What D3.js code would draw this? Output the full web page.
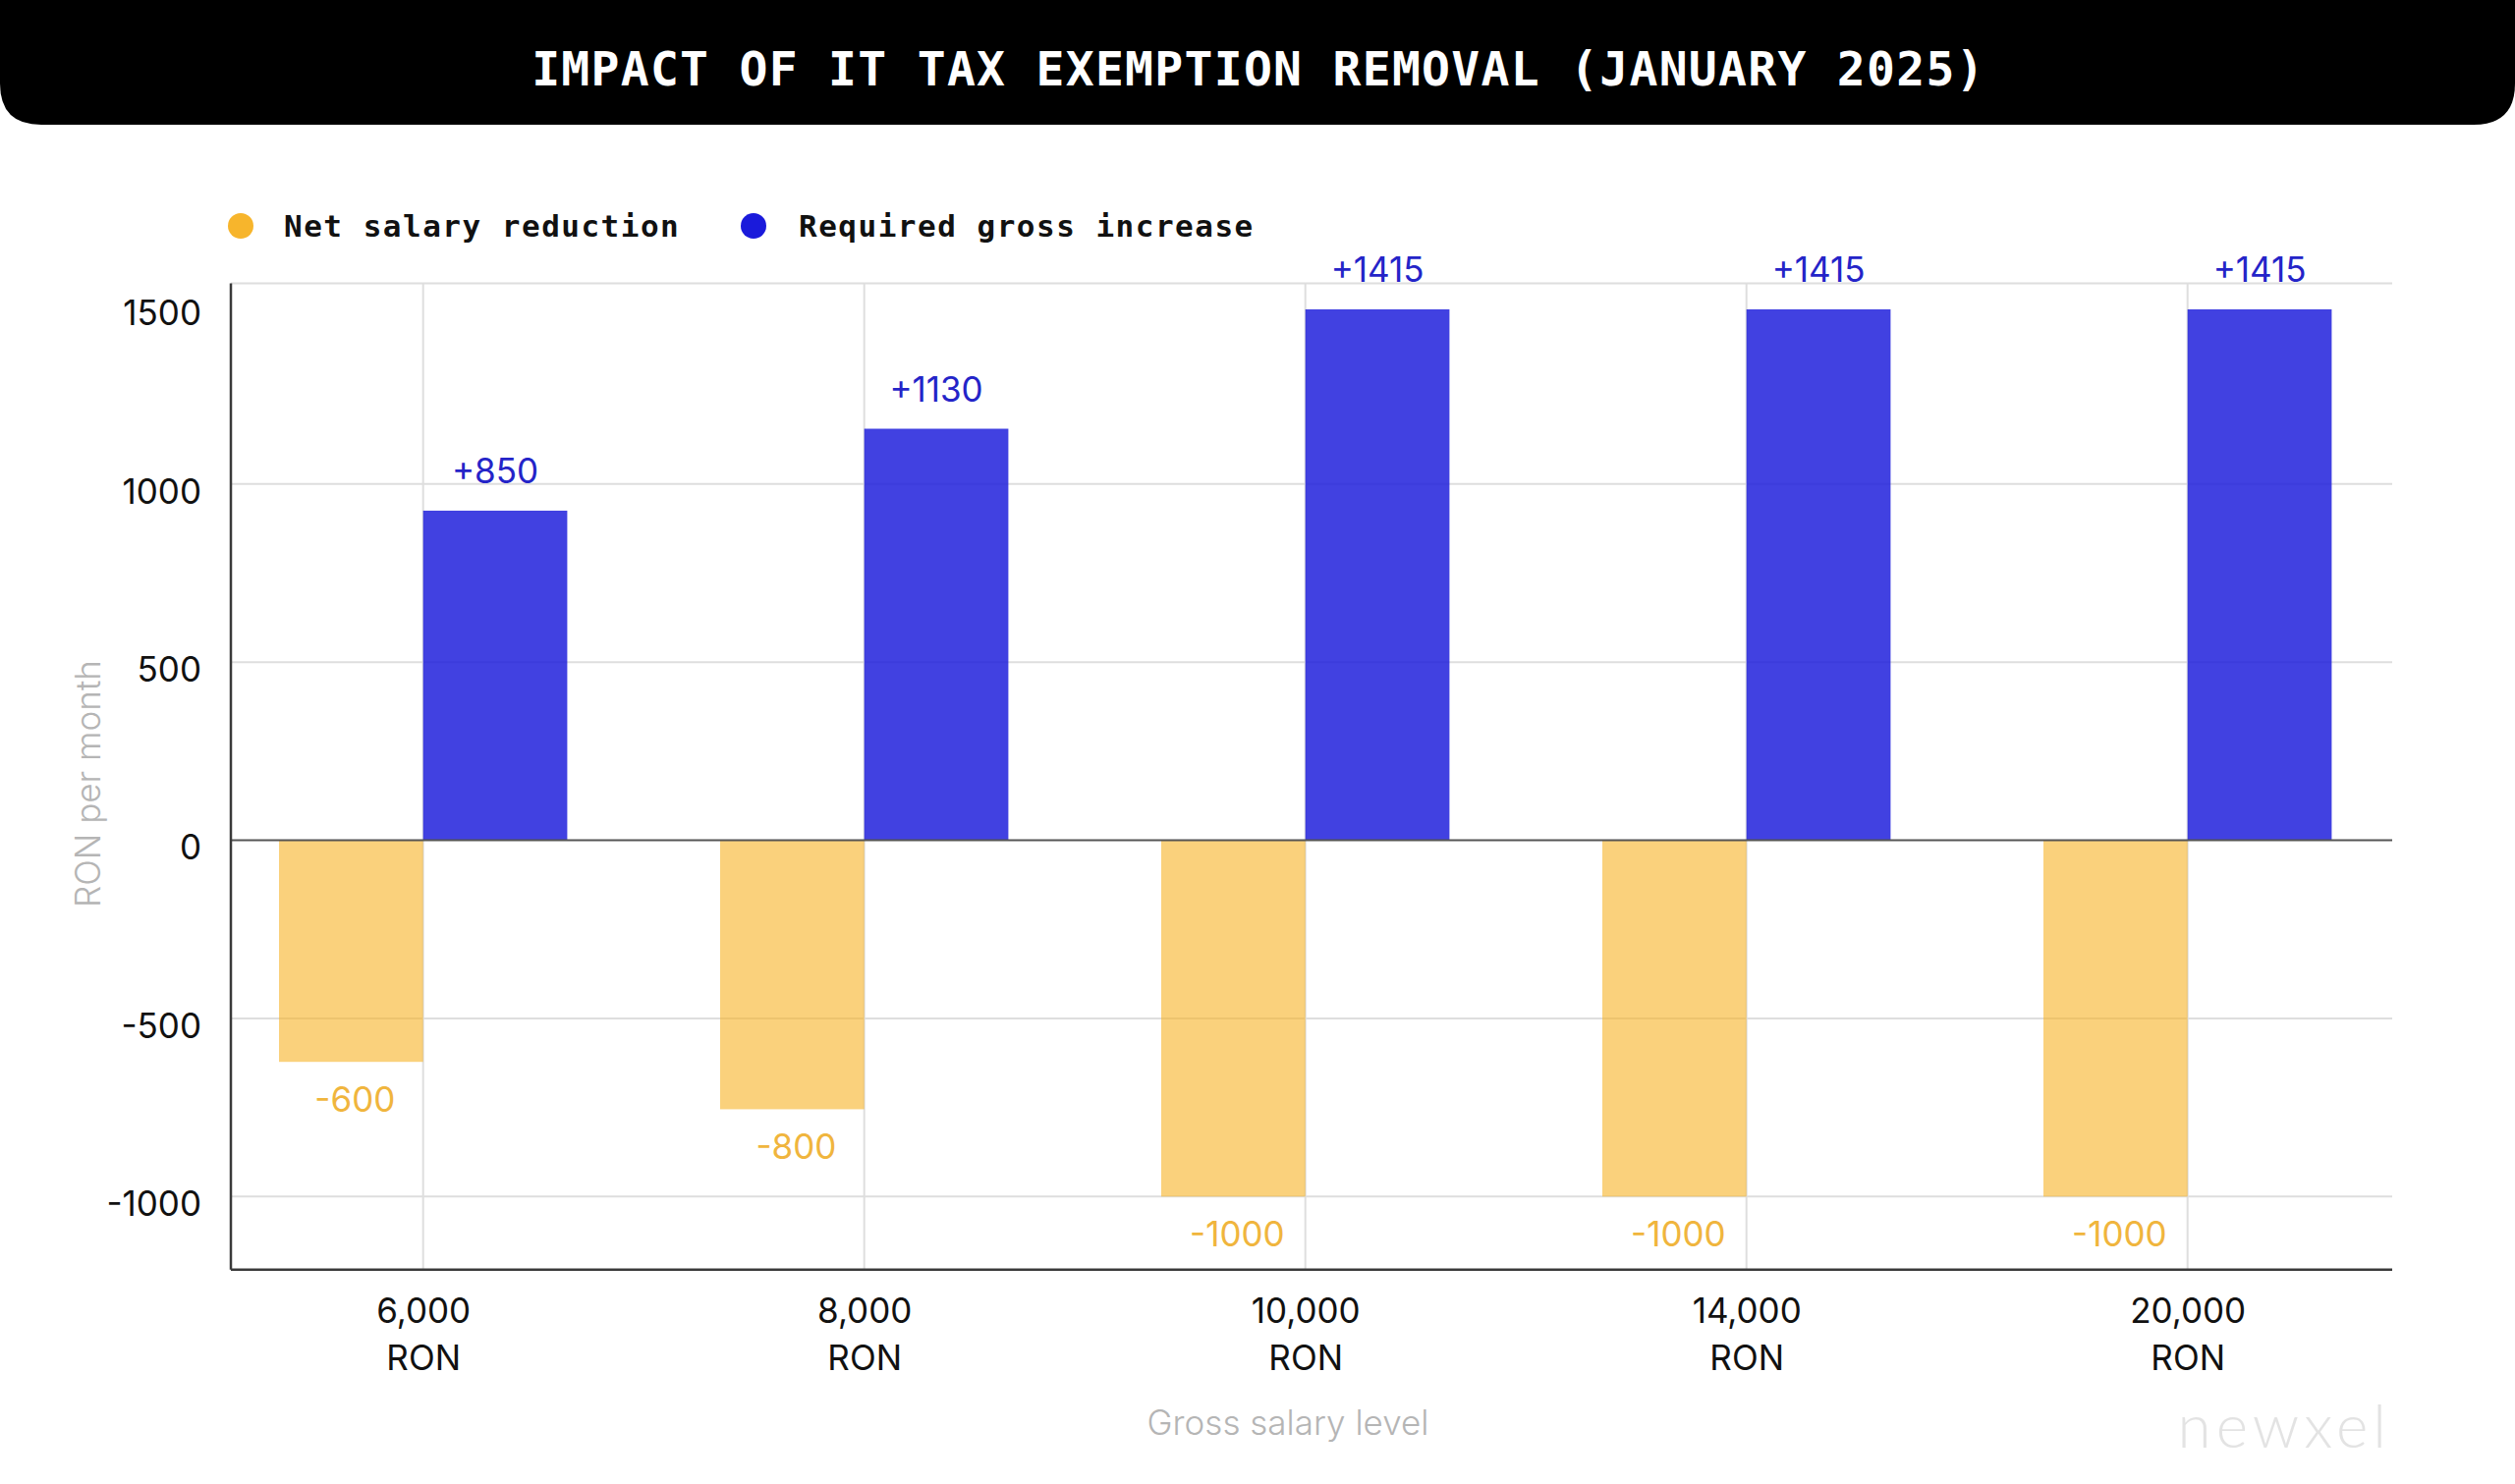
<!DOCTYPE html>
<html>
<head>
<meta charset="utf-8">
<script src="https://cdn.jsdelivr.net/npm/d3@7"></script>
<style>
  html, body { margin: 0; padding: 0; background: #ffffff; }
  svg { display: block; }
</style>
</head>
<body>
<svg id="chart" width="2560" height="1511"></svg>
<script>
// ---- data ----
const salaryLevels = ["6,000", "8,000", "10,000", "14,000", "20,000"];
const salaryUnit = "RON";
const netReduction = [-622, -755, -1000, -1000, -1000];
const grossIncrease = [925, 1155, 1490, 1490, 1490];
const netLabels = ["-600", "-800", "-1000", "-1000", "-1000"];
const grossLabels = ["+850", "+1130", "+1415", "+1415", "+1415"];
const yTickValues = [-1000, -500, 0, 500, 1000, 1500];
const yGridValues = [-1000, -500, 500, 1000];
const seriesNames = ["Net salary reduction", "Required gross increase"];
const titleText = "IMPACT OF IT TAX EXEMPTION REMOVAL (JANUARY 2025)";

// ---- layout ----
const W = 2560, H = 1511;
const plot = { left: 235, right: 2435, top: 288.5, bottom: 1292.7 };
const barW = 146.7;
const colors = {
  orange: "#f7b52c", orangeText: "#f0b53d",
  blue: "#1a1adb", blueText: "#2424c8",
  grid: "#dedede", axis: "#3a3a3a"
};
const sans = "Inter, 'Noto Sans', sans-serif";
const mono = "'DejaVu Sans Mono', 'Liberation Mono', monospace";

const svg = d3.select("#chart");

// ---- title bar ----
const r = 42;
svg.append("path")
  .attr("d", `M0,0 H${W} V${127 - r} Q${W},127 ${W - r},127 H${r} Q0,127 0,${127 - r} Z`)
  .attr("fill", "#000");
svg.append("text")
  .attr("x", W / 2 + 1).attr("y", 70)
  .attr("text-anchor", "middle").attr("dominant-baseline", "central")
  .attr("fill", "#fff")
  .style("font-family", mono).style("font-weight", "bold")
  .style("font-size", "48px").style("letter-spacing", "1.3px")
  .text(titleText);

// ---- scales ----
const x = d3.scalePoint().domain(salaryLevels).range([430.7, 2226.7]);
const y = d3.scaleLinear().domain([-1205, 1563]).range([plot.bottom, plot.top]);

// ---- grid ----
const g = svg.append("g");
g.selectAll(".hgrid").data(yGridValues).join("line")
  .attr("x1", plot.left).attr("x2", plot.right)
  .attr("y1", d => y(d)).attr("y2", d => y(d))
  .attr("stroke", colors.grid).attr("stroke-width", 2);
g.append("line")
  .attr("x1", plot.left).attr("x2", plot.right)
  .attr("y1", plot.top).attr("y2", plot.top)
  .attr("stroke", colors.grid).attr("stroke-width", 2);
g.selectAll(".vgrid").data(salaryLevels).join("line")
  .attr("x1", d => x(d)).attr("x2", d => x(d))
  .attr("y1", plot.top).attr("y2", plot.bottom)
  .attr("stroke", colors.grid).attr("stroke-width", 2);

// ---- bars ----
g.selectAll(".bar-net").data(netReduction).join("rect")
  .attr("x", (d, i) => x(salaryLevels[i]) - barW)
  .attr("y", y(0))
  .attr("width", barW)
  .attr("height", d => y(d) - y(0))
  .attr("fill", colors.orange).attr("fill-opacity", 0.62);
g.selectAll(".bar-gross").data(grossIncrease).join("rect")
  .attr("x", (d, i) => x(salaryLevels[i]))
  .attr("y", d => y(d))
  .attr("width", barW)
  .attr("height", d => y(0) - y(d))
  .attr("fill", colors.blue).attr("fill-opacity", 0.83);

// ---- zero line + axes ----
g.append("line")
  .attr("x1", plot.left).attr("x2", plot.right)
  .attr("y1", y(0)).attr("y2", y(0))
  .attr("stroke", "#555").attr("stroke-width", 2);

const yAxis = d3.axisLeft(y).tickValues(yTickValues).tickSize(0).tickPadding(30)
  .tickFormat(d => String(d));
const yg = svg.append("g").attr("transform", `translate(${plot.left},0)`).call(yAxis);
yg.select(".domain").remove();
yg.selectAll("text")
  .attr("fill", "#111").attr("dy", "0.55em")
  .style("font-family", sans).style("font-size", "35px");
svg.append("line")
  .attr("x1", plot.left).attr("x2", plot.left)
  .attr("y1", plot.top).attr("y2", plot.bottom)
  .attr("stroke", colors.axis).attr("stroke-width", 2.5);

const xAxis = d3.axisBottom(x).tickSize(0).tickPadding(0).tickFormat("");
const xg = svg.append("g").attr("transform", `translate(0,${plot.bottom})`).call(xAxis);
xg.select(".domain").remove();
xg.selectAll(".tick").append("text")
  .attr("text-anchor", "middle").attr("fill", "#111")
  .style("font-family", sans).style("font-size", "35px")
  .each(function(d) {
    const t = d3.select(this);
    t.append("tspan").attr("x", 0).attr("y", 54).text(d);
    t.append("tspan").attr("x", 0).attr("y", 102).text(salaryUnit);
  });
svg.append("line")
  .attr("x1", plot.left).attr("x2", plot.right)
  .attr("y1", plot.bottom).attr("y2", plot.bottom)
  .attr("stroke", colors.axis).attr("stroke-width", 2.5);

// ---- value labels ----
svg.selectAll(".lbl-gross").data(grossIncrease).join("text")
  .attr("x", (d, i) => x(salaryLevels[i]) + barW / 2)
  .attr("y", d => y(d) - 28)
  .attr("text-anchor", "middle").attr("fill", colors.blueText)
  .style("font-family", sans).style("font-size", "35px")
  .text((d, i) => grossLabels[i]);
svg.selectAll(".lbl-net").data(netReduction).join("text")
  .attr("x", (d, i) => x(salaryLevels[i]) - barW / 2 + 4)
  .attr("y", d => y(d) + 51)
  .attr("text-anchor", "middle").attr("fill", colors.orangeText)
  .style("font-family", sans).style("font-size", "35px")
  .text((d, i) => netLabels[i]);

// ---- axis titles ----
svg.append("text")
  .attr("transform", `translate(102,798) rotate(-90)`)
  .attr("text-anchor", "middle").attr("fill", "#b5b5b5")
  .style("font-family", sans).style("font-size", "35px").style("font-weight", 300)
  .text("RON per month");
svg.append("text")
  .attr("x", 1311).attr("y", 1461)
  .attr("text-anchor", "middle").attr("fill", "#b5b5b5")
  .style("font-family", sans).style("font-size", "35px").style("font-weight", 300)
  .text("Gross salary level");

// ---- legend ----
const legendItems = [
  { name: seriesNames[0], color: colors.orange, cx: 245, tx: 289 },
  { name: seriesNames[1], color: colors.blue, cx: 767, tx: 813 }
];
const lg = svg.append("g");
lg.selectAll("circle").data(legendItems).join("circle")
  .attr("cx", d => d.cx).attr("cy", 230).attr("r", 13)
  .attr("fill", d => d.color);
lg.selectAll("text").data(legendItems).join("text")
  .attr("x", d => d.tx).attr("y", 230)
  .attr("dominant-baseline", "central").attr("fill", "#111")
  .style("font-family", mono).style("font-weight", "bold")
  .style("font-size", "31px").style("letter-spacing", "1.5px")
  .text(d => d.name);

// ---- watermark ----
svg.append("text")
  .attr("x", 2434).attr("y", 1474)
  .attr("text-anchor", "end").attr("fill", "#e3e3e3")
  .style("font-family", "Lato, sans-serif").style("font-weight", 300)
  .style("font-size", "62px").style("letter-spacing", "5px")
  .text("newxel");
</script>
</body>
</html>
